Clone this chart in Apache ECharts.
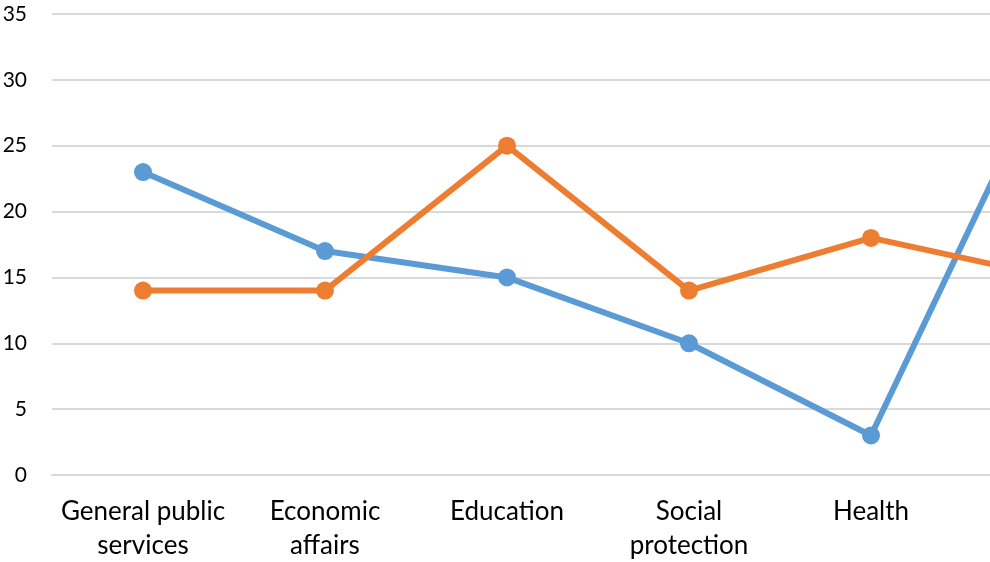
<!DOCTYPE html>
<html>
<head>
<meta charset="utf-8">
<script src="https://cdn.jsdelivr.net/npm/echarts@6/dist/echarts.min.js"></script>
<style>html,body{margin:0;padding:0;background:#fff;}#c{width:990px;height:562px;}</style>
</head>
<body>
<div id="c"></div>
<script>
const categories = ["General public\nservices", "Economic\naffairs", "Education", "Social\nprotection", "Health", "Other"];
const seriesBlue = [23, 17, 15, 10, 3, 32];
const seriesOrange = [14, 14, 25, 14, 18, 15];
const yTicks = [0, 5, 10, 15, 20, 25, 30, 35];

const chart = echarts.init(document.getElementById('c'), null, {renderer: 'canvas'});
const font = 'Lato';
const band = 182;
chart.setOption({
  animation: false,
  backgroundColor: '#ffffff',
  grid: {left: 52, top: 14, width: band * categories.length, height: 461,
         right: 990 - 52 - band * categories.length,
         containLabel: false, outerBoundsMode: 'none'},
  xAxis: {
    type: 'category',
    data: categories,
    boundaryGap: true,
    axisLine: {show: true, lineStyle: {color: '#d9d9d9', width: 2}},
    axisTick: {show: false},
    axisLabel: {color: '#000', fontFamily: font, fontSize: 26, lineHeight: 34, margin: 20, interval: 0}
  },
  yAxis: {
    type: 'value',
    min: yTicks[0],
    max: yTicks[yTicks.length - 1],
    interval: 5,
    axisLine: {show: false},
    axisTick: {show: false},
    splitLine: {lineStyle: {color: '#d9d9d9', width: 2}},
    axisLabel: {color: '#000', fontFamily: font, fontSize: 21, margin: 25}
  },
  series: [
    {type: 'line', data: seriesBlue, symbol: 'circle', symbolSize: 18,
     lineStyle: {color: '#5b9bd5', width: 6}, itemStyle: {color: '#5b9bd5'}},
    {type: 'line', data: seriesOrange, symbol: 'circle', symbolSize: 18,
     lineStyle: {color: '#ed7d31', width: 6}, itemStyle: {color: '#ed7d31'}}
  ]
});
</script>
</body>
</html>
